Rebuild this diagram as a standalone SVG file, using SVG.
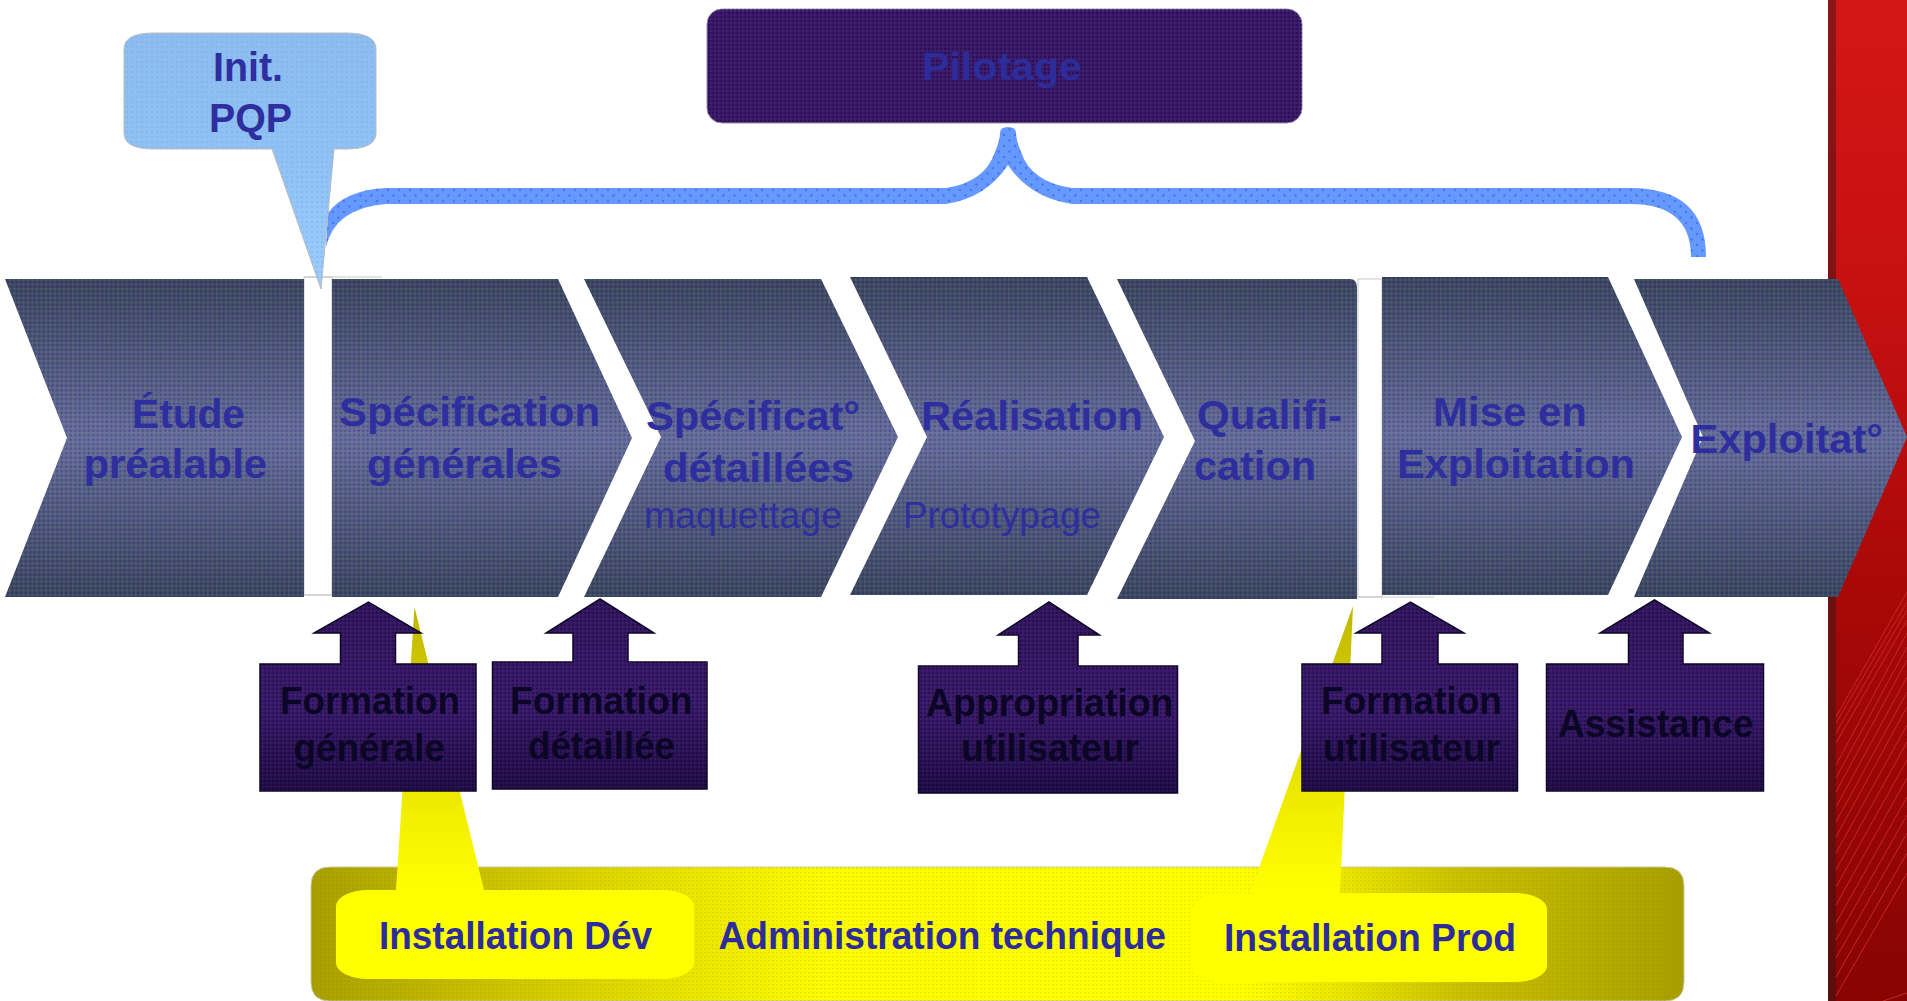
<svg xmlns="http://www.w3.org/2000/svg" width="1907" height="1001" viewBox="0 0 1907 1001">
<style>
text{font-family:"Liberation Sans",Arial,sans-serif;font-weight:700;fill:#2e2e9e;font-size:41px}
.reg{font-weight:400;font-size:37px}
.dk{fill:#0c0626;font-size:39px}
.pl{fill:#2c2c9a;font-size:39px}
.thin{stroke:#c8c8c8;stroke-width:1;fill:none}
.rl{stroke:#d22a2a;stroke-width:1;fill:none;opacity:.85}
.box{stroke:#0c0626;stroke-width:1.5}
</style>
<defs>
<linearGradient id="gCh" x1="0" y1="0" x2="0" y2="1"><stop offset="0" stop-color="#3e465c"/><stop offset=".5" stop-color="#6b6f9c"/><stop offset="1" stop-color="#3e465c"/></linearGradient>
<linearGradient id="gPu" x1="0" y1="0" x2="0" y2="1"><stop offset="0" stop-color="#32165c"/><stop offset=".55" stop-color="#3a1a6a"/><stop offset="1" stop-color="#1e0c42"/></linearGradient>
<linearGradient id="gRed" x1="0" y1="0" x2="0" y2="1"><stop offset="0" stop-color="#d41616"/><stop offset=".3" stop-color="#c61010"/><stop offset=".6" stop-color="#a80808"/><stop offset="1" stop-color="#880404"/></linearGradient>
<linearGradient id="gDark" x1="0" y1="0" x2="0" y2="1"><stop offset="0" stop-color="#8c1616"/><stop offset="1" stop-color="#5c0c0c"/></linearGradient>
<linearGradient id="gCal" x1="0" y1="0" x2="0" y2="1"><stop offset="0" stop-color="#8cbcf0"/><stop offset=".5" stop-color="#90c2f6"/><stop offset="1" stop-color="#99ccff"/></linearGradient>
<linearGradient id="gYe" gradientUnits="userSpaceOnUse" x1="311" y1="0" x2="1684" y2="0"><stop offset="0" stop-color="#a89f00"/><stop offset=".14" stop-color="#cdc500"/><stop offset=".28" stop-color="#ece600"/><stop offset=".38" stop-color="#fdfd00"/><stop offset=".68" stop-color="#ffff00"/><stop offset=".76" stop-color="#e8e200"/><stop offset=".84" stop-color="#c8c000"/><stop offset="1" stop-color="#a89f00"/></linearGradient>
<linearGradient id="gTailD" gradientUnits="userSpaceOnUse" x1="0" y1="607" x2="0" y2="890"><stop offset="0" stop-color="#c0b800"/><stop offset=".25" stop-color="#d0c800"/><stop offset=".7" stop-color="#f0ec00"/><stop offset="1" stop-color="#ffff00"/></linearGradient>
<pattern id="dCh" width="4.500" height="4.500" patternUnits="userSpaceOnUse"><rect width="1.600" height="1.600" fill="#4a9a88" opacity=".38"/><rect x="2.250" y="2.250" width="2" height="2" fill="#1e1a7c" opacity=".42"/></pattern>
<pattern id="dPu" width="4" height="4" patternUnits="userSpaceOnUse"><rect width="2" height="2" fill="#180638" opacity=".45"/><rect x="2" y="2" width="1.500" height="1.500" fill="#4a2a90" opacity=".4"/></pattern>
<pattern id="dBl" width="5" height="5" patternUnits="userSpaceOnUse"><circle cx="2" cy="2" r=".9" fill="#7fa8e0" opacity=".6"/></pattern>
<pattern id="dBr" width="11" height="11" patternUnits="userSpaceOnUse"><circle cx="3" cy="3" r="1.200" fill="#3a66e8" opacity=".7"/><circle cx="8.500" cy="8.500" r="1.200" fill="#3a66e8" opacity=".7"/></pattern>
<pattern id="dYe" width="4" height="4" patternUnits="userSpaceOnUse"><rect width="1.500" height="1.500" fill="#807800" opacity=".18"/></pattern>
<path id="p1" d="M5 279H304V597H5L67 438Z"/>
<path id="p2" d="M332 279H558L632 438L558 597H332Z"/>
<path id="p3" d="M584 279H821L898 437L821 597H584L661 437Z"/>
<path id="p4" d="M850 277H1087L1164 437L1087 595H850L927 437Z"/>
<path id="p5" d="M1117 279H1350Q1357 279 1357 288V599H1117L1195 441Z"/>
<path id="p6" d="M1382 277H1608L1682 437L1608 595H1382Z"/>
<path id="p7" d="M1634 279H1838L1907 437L1838 597H1634L1703 437Z"/>
<path id="bx1" d="M260 664H340.500V633H314L368.500 602L421 633H395.500V664H476V791H260Z"/>
<path id="bx2" d="M492.500 662H573V633H546L600 599L654 633H628V662H707V789H492.500Z"/>
<path id="bx3" d="M918.500 666H1018.500V635H998L1049 602L1099.500 635H1078V666H1177.500V793H918.500Z"/>
<path id="bx4" d="M1302 664H1382V633H1356L1410.500 602L1464 633H1438V664H1517.500V791H1302Z"/>
<path id="bx5" d="M1546.500 664H1628.500V633H1600L1654.500 600L1709.500 633H1683V664H1763.500V791H1546.500Z"/>
<rect id="pil" x="707" y="9" width="595" height="114" rx="15"/>
<path id="cal" d="M154 33H346Q376 33 376 49V133Q376 149 346 149H334L321 289L272 149H154Q124 149 124 133V49Q124 33 154 33Z"/>
<path id="bra" d="M326 247L328 213Q345 190 386 188H946Q985 182 995 152Q1000 140 1000 133Q1000 127 1008 127Q1016 127 1016 133Q1016 140 1021 152Q1031 182 1072 188H1630Q1706 188 1706 257H1691Q1691 204 1630 204H1072Q1030 198 1008 165Q986 198 946 204H386Q335 208 326 247Z"/>
</defs>

<g id="red-band">
<rect x="1836" y="0" width="71" height="1001" fill="url(#gRed)"/>
<rect x="1828" y="0" width="8" height="1001" fill="url(#gDark)"/>
<path class="rl" d="M1836 717L1907 592M1836 723L1907 602M1836 733L1907 610M1836 743L1907 620M1836 765L1907 633M1836 778L1907 647M1836 792L1907 660M1836 807L1907 677M1836 822L1907 692M1836 837L1907 707M1836 853L1907 725M1836 870L1907 742M1836 887L1907 760M1836 905L1907 778M1836 923L1907 797M1836 940L1907 815M1836 958L1907 833M1836 977L1907 853M1836 996L1907 873M1883 1001L1907 993"/>
</g>

<g id="administration-technique">
<path d="M330 867H1665Q1684 867 1684 886V982Q1684 1001 1665 1001H330Q311 1001 311 982V886Q311 867 330 867Z" fill="url(#gYe)" stroke="#c8c8a0" stroke-width="1"/>
<path d="M330 867H1665Q1684 867 1684 886V982Q1684 1001 1665 1001H330Q311 1001 311 982V886Q311 867 330 867Z" fill="url(#dYe)"/>
<text x="718.500" y="949" textLength="447.500" lengthAdjust="spacingAndGlyphs" class="pl">Administration technique</text>
</g>
<g id="installation-dev">
<path d="M414.500 607L484 890H396Z" fill="url(#gTailD)"/>
<rect x="336" y="890" width="358" height="89" rx="32" ry="16" fill="#ffff00"/>
<text x="379" y="949" textLength="273" lengthAdjust="spacingAndGlyphs" class="pl">Installation Dév</text>
</g>
<g id="installation-prod">
<path d="M1353 606L1250 893H1340Z" fill="url(#gTailD)"/>
<rect x="1192" y="893" width="355" height="89" rx="32" ry="16" fill="#ffff00"/>
<text x="1224" y="951" textLength="292" lengthAdjust="spacingAndGlyphs" class="pl">Installation Prod</text>
</g>

<g id="connectors">
<use href="#bra" fill="#6699ff"/>
<use href="#bra" fill="url(#dBr)"/>
</g>

<g id="separators">
<rect x="304" y="277" width="28" height="318" fill="#ffffff" class="thin"/>
<path class="thin" d="M304 277H382M304 595H332"/>
<rect x="1358" y="279" width="24" height="318" fill="#ffffff" class="thin"/>
<path class="thin" d="M1358 597H1434"/>
</g>

<g id="etude-prealable"><use href="#p1" fill="url(#gCh)"/><use href="#p1" fill="url(#dCh)"/>
<text x="132" y="428" textLength="113" lengthAdjust="spacingAndGlyphs">Étude</text>
<text x="83.500" y="478" textLength="183.500" lengthAdjust="spacingAndGlyphs">préalable</text></g>
<g id="specification-generales"><use href="#p2" fill="url(#gCh)"/><use href="#p2" fill="url(#dCh)"/>
<text x="339" y="426" textLength="261" lengthAdjust="spacingAndGlyphs">Spécification</text>
<text x="367" y="478" textLength="195" lengthAdjust="spacingAndGlyphs">générales</text></g>
<g id="specificat-detaillees"><use href="#p3" fill="url(#gCh)"/><use href="#p3" fill="url(#dCh)"/>
<text x="646" y="430" textLength="214" lengthAdjust="spacingAndGlyphs">Spécificat°</text>
<text x="663" y="482" textLength="191" lengthAdjust="spacingAndGlyphs">détaillées</text>
<text x="644" y="528" textLength="198" lengthAdjust="spacingAndGlyphs" class="reg">maquettage</text></g>
<g id="realisation"><use href="#p4" fill="url(#gCh)"/><use href="#p4" fill="url(#dCh)"/>
<text x="921" y="430" textLength="222" lengthAdjust="spacingAndGlyphs">Réalisation</text>
<text x="903" y="528" textLength="198" lengthAdjust="spacingAndGlyphs" class="reg">Prototypage</text></g>
<g id="qualification"><use href="#p5" fill="url(#gCh)"/><use href="#p5" fill="url(#dCh)"/>
<text x="1197" y="429" textLength="145" lengthAdjust="spacingAndGlyphs">Qualifi-</text>
<text x="1194" y="480" textLength="122" lengthAdjust="spacingAndGlyphs">cation</text></g>
<g id="mise-en-exploitation"><use href="#p6" fill="url(#gCh)"/><use href="#p6" fill="url(#dCh)"/>
<text x="1433" y="426" textLength="154" lengthAdjust="spacingAndGlyphs">Mise en</text>
<text x="1397" y="478" textLength="238" lengthAdjust="spacingAndGlyphs">Exploitation</text></g>
<g id="exploitation"><use href="#p7" fill="url(#gCh)"/><use href="#p7" fill="url(#dCh)"/>
<text x="1690.500" y="453" textLength="192.500" lengthAdjust="spacingAndGlyphs">Exploitat°</text></g>

<g id="init-pqp"><use href="#cal" fill="url(#gCal)" stroke="#bbbbbb"/><use href="#cal" fill="url(#dBl)"/>
<text x="213" y="81" textLength="70" lengthAdjust="spacingAndGlyphs">Init.</text>
<text x="209" y="132" textLength="83" lengthAdjust="spacingAndGlyphs">PQP</text></g>

<g id="pilotage"><use href="#pil" fill="#3a1a68" stroke="#9a90b0"/><use href="#pil" fill="url(#dPu)"/>
<text x="922" y="80" textLength="160" lengthAdjust="spacingAndGlyphs" class="pl">Pilotage</text></g>

<g id="formation-generale"><use href="#bx1" fill="url(#gPu)" class="box"/><use href="#bx1" fill="url(#dPu)"/>
<text x="280" y="714" textLength="180" lengthAdjust="spacingAndGlyphs" class="dk">Formation</text>
<text x="293.500" y="761" textLength="151.500" lengthAdjust="spacingAndGlyphs" class="dk">générale</text></g>
<g id="formation-detaillee"><use href="#bx2" fill="url(#gPu)" class="box"/><use href="#bx2" fill="url(#dPu)"/>
<text x="510" y="714" textLength="182.500" lengthAdjust="spacingAndGlyphs" class="dk">Formation</text>
<text x="528" y="759" textLength="147" lengthAdjust="spacingAndGlyphs" class="dk">détaillée</text></g>
<g id="appropriation-utilisateur"><use href="#bx3" fill="url(#gPu)" class="box"/><use href="#bx3" fill="url(#dPu)"/>
<text x="926" y="716" textLength="247.500" lengthAdjust="spacingAndGlyphs" class="dk">Appropriation</text>
<text x="961" y="761" textLength="178" lengthAdjust="spacingAndGlyphs" class="dk">utilisateur</text></g>
<g id="formation-utilisateur"><use href="#bx4" fill="url(#gPu)" class="box"/><use href="#bx4" fill="url(#dPu)"/>
<text x="1321" y="714" textLength="181" lengthAdjust="spacingAndGlyphs" class="dk">Formation</text>
<text x="1323" y="761" textLength="177" lengthAdjust="spacingAndGlyphs" class="dk">utilisateur</text></g>
<g id="assistance"><use href="#bx5" fill="url(#gPu)" class="box"/><use href="#bx5" fill="url(#dPu)"/>
<text x="1558" y="737" textLength="195.500" lengthAdjust="spacingAndGlyphs" class="dk">Assistance</text></g>
</svg>
